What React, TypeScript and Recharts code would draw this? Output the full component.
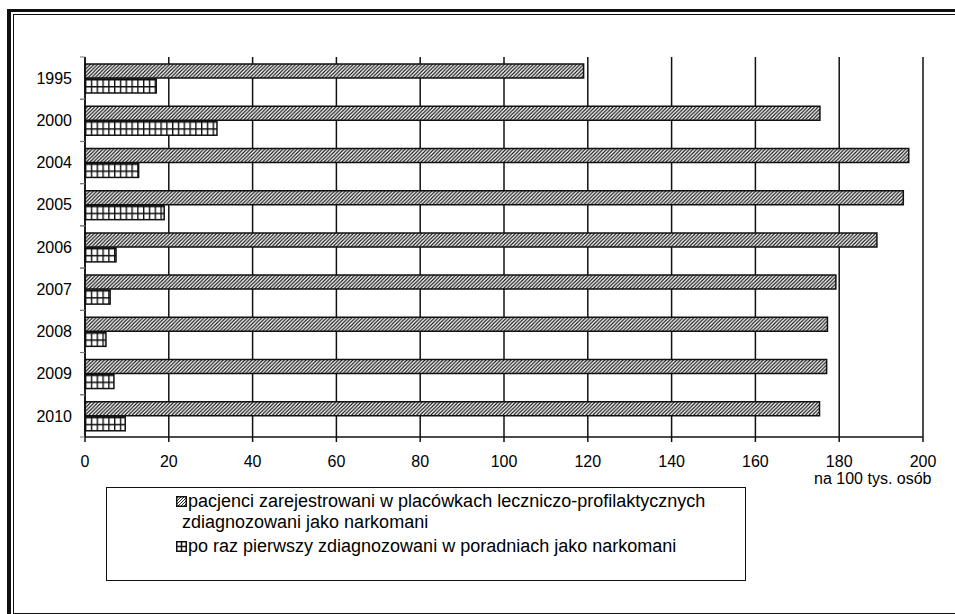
import React from 'react';
import { BarChart, Bar, XAxis, YAxis, CartesianGrid } from 'recharts';

const years = ['1995', '2000', '2004', '2005', '2006', '2007', '2008', '2009', '2010'];
const registered = [119, 175.4, 196.6, 195.3, 189, 179.2, 177.2, 177, 175.3];
const firstTime = [17, 31.5, 12.8, 18.9, 7.4, 6, 5, 6.9, 9.6];
const xTicks = [0, 20, 40, 60, 80, 100, 120, 140, 160, 180, 200];
const unitLabel = 'na 100 tys. osób';
const legendLine1a = 'pacjenci zarejestrowani w placówkach leczniczo-profilaktycznych';
const legendLine1b = 'zdiagnozowani jako narkomani';
const legendLine2 = 'po raz pierwszy zdiagnozowani w poradniach jako narkomani';

const data = years.map((year, i) => ({ year, registered: registered[i], firstTime: firstTime[i] }));

const INK = '#111';
const FONT = '"Liberation Sans", Arial, sans-serif';
const Y_TICK_SIZE = 5;
const Y_TICK_MARGIN = 8;

const GridBar = (p: any) => {
  const { x, y, width, height, index } = p;
  if (!width || width <= 0) return null;
  const id = `cells-${index}`;
  const cw = 5.8;
  const ch = height / 2;
  return (
    <g>
      <defs>
        <pattern id={id} patternUnits="userSpaceOnUse" x={x} y={y} width={cw} height={ch}>
          <rect width={cw} height={ch} fill="#fff" />
          <path d={`M0.7,0 V${ch} M0,0.7 H${cw}`} stroke={INK} strokeWidth={1.4} />
        </pattern>
      </defs>
      <rect x={x} y={y} width={width} height={height} fill={`url(#${id})`} stroke={INK} strokeWidth={1.5} />
    </g>
  );
};

const YearTick = (p: any) => {
  const { x, y, payload } = p;
  const half = (payload && payload.offset) || 0;
  const x1 = x + Y_TICK_MARGIN;
  const x2 = x1 + Y_TICK_SIZE;
  return (
    <g>
      <line x1={x1} x2={x2} y1={y - half} y2={y - half} stroke="#777" strokeWidth={1} />
      <line x1={x1} x2={x2} y1={y + half} y2={y + half} stroke="#777" strokeWidth={1} />
      <text x={x} y={y} dy="0.355em" textAnchor="end" fontSize={16} fill="#000" fontFamily={FONT}>
        {payload.value}
      </text>
    </g>
  );
};

const HatchIcon = () => (
  <svg width={11} height={11} style={{ display: 'block' }}>
    <defs>
      <pattern id="hatchIcon" patternUnits="userSpaceOnUse" width={3} height={3}>
        <rect width={3} height={3} fill="#fff" />
        <path d="M-1,1 l2,-2 M0,3 l3,-3 M2,4 l2,-2" stroke={INK} strokeWidth={0.9} />
      </pattern>
    </defs>
    <rect x={0.75} y={0.75} width={9.5} height={9.5} fill="url(#hatchIcon)" stroke={INK} strokeWidth={1.5} />
  </svg>
);

const GridIcon = () => (
  <svg width={11} height={11} style={{ display: 'block' }}>
    <rect x={0.75} y={0.75} width={9.5} height={9.5} fill="#fff" stroke={INK} strokeWidth={1.5} />
    <path d="M5.5,0 V11 M0,5.5 H11" stroke={INK} strokeWidth={1.5} />
  </svg>
);

const UnitLabel = (p: any) => {
  const vb = p.viewBox || { x: 0, y: 0, width: 0, height: 0 };
  return (
    <text x={vb.x + vb.width + 8.5} y={vb.y + 47} textAnchor="end" fontSize={16} fill="#000" fontFamily={FONT}>
      {unitLabel}
    </text>
  );
};

export default function App() {
  const legendText: React.CSSProperties = {
    position: 'absolute',
    fontSize: 18,
    lineHeight: '22px',
    whiteSpace: 'nowrap',
    color: '#000',
  };
  return (
    <div
      style={{
        position: 'absolute',
        left: 0,
        top: 0,
        width: 955,
        height: 614,
        overflow: 'hidden',
        background: '#fff',
        fontFamily: FONT,
      }}
    >
      <div
        style={{
          position: 'absolute',
          left: 7,
          top: 9,
          width: 1000,
          height: 700,
          borderLeft: `4.5px solid ${INK}`,
          borderTop: `3.5px solid ${INK}`,
          boxSizing: 'border-box',
        }}
      />
      <div
        style={{
          position: 'absolute',
          left: 13,
          top: 14,
          width: 1000,
          height: 600,
          borderLeft: `1.5px solid ${INK}`,
          borderTop: `1.5px solid ${INK}`,
          borderBottom: `1.5px solid ${INK}`,
          boxSizing: 'border-box',
        }}
      />
      <div style={{ position: 'absolute', left: 0, top: 0 }}>
        <BarChart
          width={955}
          height={614}
          data={data}
          layout="vertical"
          margin={{ top: 57, right: 32, bottom: 147, left: 25 }}
          barGap={1}
          barCategoryGap={0}
        >
          <defs>
            <pattern id="hatch" patternUnits="userSpaceOnUse" width={3.6} height={3.6}>
              <rect width={3.6} height={3.6} fill="#fff" />
              <path d="M-0.9,0.9 l1.8,-1.8 M0,3.6 l3.6,-3.6 M2.7,4.5 l1.8,-1.8" stroke="#111" strokeWidth={1.15} />
            </pattern>
          </defs>
          <CartesianGrid horizontal={false} stroke={INK} strokeWidth={1.5} />
          <XAxis
            type="number"
            domain={[0, 200]}
            ticks={xTicks}
            interval={0}
            height={30}
            tickSize={5}
            tickMargin={14}
            stroke={INK}
            axisLine={{ stroke: INK, strokeWidth: 1.5 }}
            tickLine={{ stroke: INK, strokeWidth: 1.5 }}
            tick={{ fill: '#000', fontSize: 16, fontFamily: FONT }}
            label={{ content: UnitLabel }}
          />
          <XAxis
            xAxisId="top"
            orientation="top"
            type="number"
            domain={[0, 200]}
            height={0}
            tick={false}
            tickLine={false}
            axisLine={{ stroke: INK, strokeWidth: 1.5 }}
          />
          <YAxis
            type="category"
            dataKey="year"
            width={60}
            tickSize={Y_TICK_SIZE}
            tickMargin={Y_TICK_MARGIN}
            tickLine={false}
            axisLine={{ stroke: INK, strokeWidth: 1.5 }}
            interval={0}
            tick={YearTick}
          />
          <Bar
            dataKey="registered"
            barSize={14}
            fill="url(#hatch)"
            stroke={INK}
            strokeWidth={1.5}
            isAnimationActive={false}
          />
          <Bar dataKey="firstTime" barSize={14} shape={GridBar} isAnimationActive={false} />
        </BarChart>
      </div>
      <div
        style={{
          position: 'absolute',
          left: 106,
          top: 487,
          width: 640,
          height: 94,
          border: `1.5px solid ${INK}`,
          boxSizing: 'border-box',
        }}
      />
      <div style={{ position: 'absolute', left: 176, top: 496 }}>
        <HatchIcon />
      </div>
      <div style={{ ...legendText, left: 188, top: 490 }}>{legendLine1a}</div>
      <div style={{ ...legendText, left: 182, top: 511 }}>{legendLine1b}</div>
      <div style={{ position: 'absolute', left: 176, top: 541 }}>
        <GridIcon />
      </div>
      <div style={{ ...legendText, left: 188, top: 534.5 }}>{legendLine2}</div>
    </div>
  );
}
